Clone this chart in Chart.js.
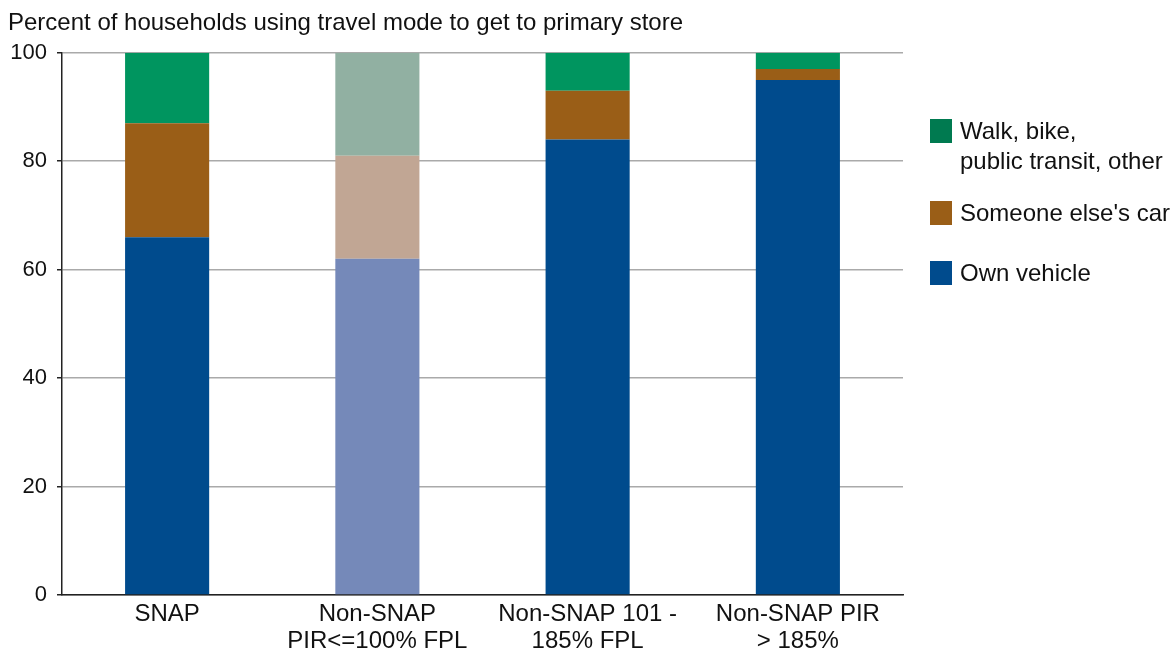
<!DOCTYPE html>
<html><head><meta charset="utf-8">
<script src="https://cdn.jsdelivr.net/npm/chart.js@4/dist/chart.umd.min.js"></script>
<style>
html,body{margin:0;padding:0;background:#fff;overflow:hidden;}
#wrap{position:relative;width:1170px;height:653px;overflow:hidden;}
#legend{position:absolute;left:0;top:0;font-family:"Liberation Sans",Arial,Helvetica,sans-serif;font-size:24px;color:#111;}
.item{position:absolute;left:930px;white-space:nowrap;}
.sw{position:absolute;left:0;width:22px;height:24px;}
.tx{position:absolute;left:30px;line-height:30px;}
</style></head>
<body>
<div id="wrap"><canvas id="c" width="1170" height="653"></canvas>
<div id="legend"></div></div>
<script>
const categories = [["SNAP"], ["Non-SNAP", "PIR<=100% FPL"], ["Non-SNAP 101 -", "185% FPL"], ["Non-SNAP PIR", "> 185%"]];
const ownVehicle = [66, 62, 84, 95];
const someoneElsesCar = [21, 19, 9, 2];
const walkBikeOther = [13, 19, 7, 3];
const yTicks = [0, 20, 40, 60, 80, 100];
const seriesNames = ["Own vehicle", "Someone else's car", "Walk, bike, public transit, other"];
const legendLabels = [["Walk, bike,", "public transit, other"], ["Someone else's car"], ["Own vehicle"]];

const FONT = '"Liberation Sans", Arial, Helvetica, sans-serif';
const blue = ['#004B8D', '#7589B9', '#004B8D', '#004B8D'];
const brown = ['#9A5E17', '#C1A694', '#9A5E17', '#9A5E17'];
const green = ['#00955F', '#91B0A2', '#00955F', '#00955F'];

new Chart(document.getElementById('c'), {
  type: 'bar',
  data: {
    labels: categories,
    datasets: [
      {label: seriesNames[0], data: ownVehicle, backgroundColor: blue},
      {label: seriesNames[1], data: someoneElsesCar, backgroundColor: brown},
      {label: seriesNames[2], data: walkBikeOther, backgroundColor: green}
    ]
  },
  options: {
    responsive: false,
    animation: false,
    layout: {padding: {left: 8, right: 267, top: 0, bottom: 0}},
    datasets: {bar: {categoryPercentage: 1.0, barPercentage: 0.4}},
    plugins: {
      legend: {display: false},
      tooltip: {enabled: false},
      title: {
        display: true,
        text: 'Percent of households using travel mode to get to primary store',
        align: 'start',
        color: '#111',
        font: {family: FONT, size: 24, weight: 'normal', lineHeight: 1.2},
        padding: {top: 9, bottom: 15}
      }
    },
    scales: {
      x: {
        stacked: true,
        grid: {display: false, drawTicks: false, tickLength: 0},
        border: {display: true, color: '#222', width: 1.5},
        ticks: {color: '#111', font: {family: FONT, size: 24, lineHeight: 1.12}, padding: 6, maxRotation: 0, autoSkip: false},
        afterFit: s => { s.height = 58; }
      },
      y: {
        stacked: true,
        min: 0, max: 100,
        afterBuildTicks: s => { s.ticks = yTicks.map(v => ({value: v})); },
        grid: {color: '#AAAAAA', lineWidth: 1.5, drawTicks: true, tickLength: 5, tickColor: '#222'},
        border: {display: true, color: '#222', width: 1.5},
        ticks: {color: '#111', font: {family: FONT, size: 22}, padding: 10},
        afterFit: s => { s.width = 54; }
      }
    }
  }
});

const legendColors = ['#007A50', '#9A5E17', '#004B8D'];
const legendTops = [119, 201, 261];
const lg = document.getElementById('legend');
legendLabels.forEach((lines, i) => {
  const it = document.createElement('div');
  it.className = 'item';
  it.style.top = legendTops[i] + 'px';
  const sw = document.createElement('div');
  sw.className = 'sw';
  sw.style.background = legendColors[i];
  const tx = document.createElement('div');
  tx.className = 'tx';
  tx.style.top = '-3px';
  tx.innerHTML = lines.map(l => l.replace(/&/g,'&amp;').replace(/</g,'&lt;')).join('<br>');
  it.appendChild(sw); it.appendChild(tx);
  lg.appendChild(it);
});
</script>
</body></html>
